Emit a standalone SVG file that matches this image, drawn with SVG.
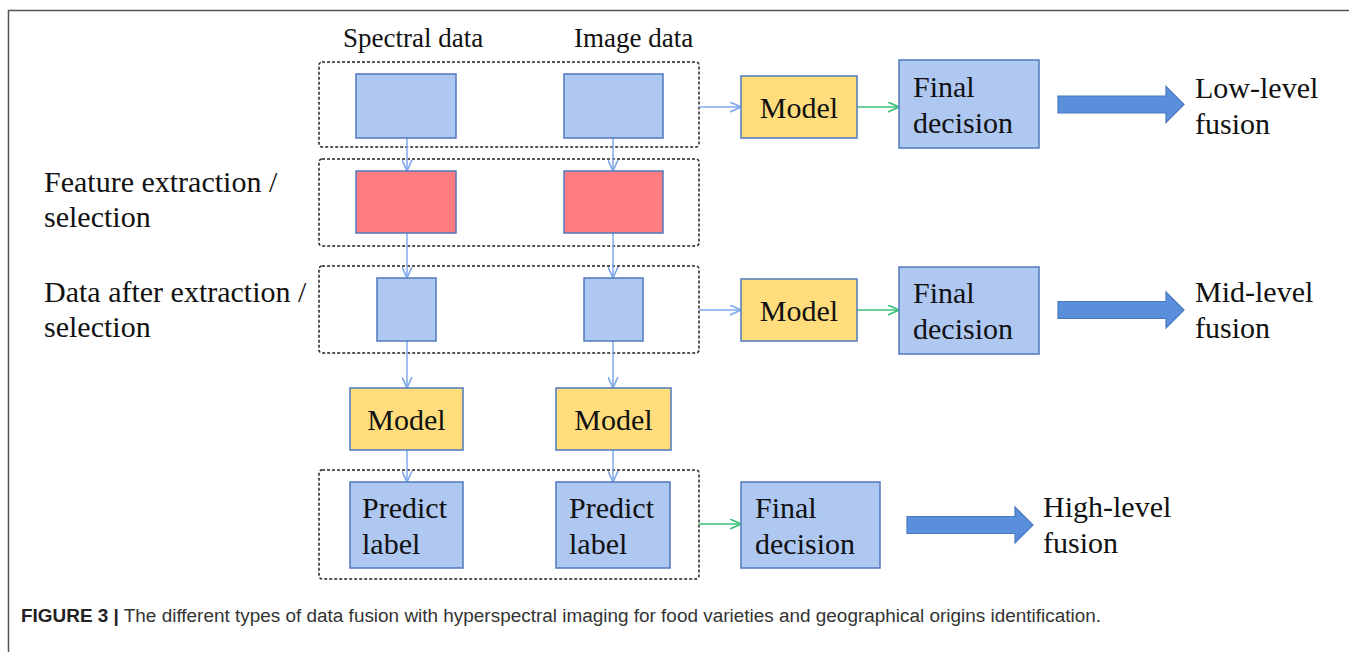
<svg xmlns="http://www.w3.org/2000/svg" width="1349" height="652" viewBox="0 0 1349 652">
<defs>
<style>
.t{font-family:"Liberation Serif","Times New Roman",serif;fill:#111;font-size:30px}
.hd{font-size:27px}
.blue{fill:#AEC8F1;stroke:#4F79BD;stroke-width:1.5}
.red{fill:#FF7C80;stroke:#4F79BD;stroke-width:1.5}
.yel{fill:#FFDD7C;stroke:#4F79BD;stroke-width:1.5}
.dash{fill:none;stroke:#222;stroke-width:1.5;stroke-dasharray:3 2}
.cb{fill:none;stroke:#7FA9EC;stroke-width:1.5}
.cg{fill:none;stroke:#3CC07A;stroke-width:1.5}
.big{fill:#5A8FDC;stroke:#4A78C0;stroke-width:1.2}
.cap{font-family:"Liberation Sans",Arial,sans-serif;font-size:18px;fill:#333}
</style>
<marker id="ab" viewBox="0 0 10 10" refX="10" refY="5" markerWidth="11" markerHeight="11" markerUnits="userSpaceOnUse" orient="auto"><path d="M0,0.5 L10,5 L0,9.5" fill="none" stroke="#7FA9EC" stroke-width="1.5"/></marker>
<marker id="ag" viewBox="0 0 10 10" refX="10" refY="5" markerWidth="11" markerHeight="11" markerUnits="userSpaceOnUse" orient="auto"><path d="M0,0.5 L10,5 L0,9.5" fill="none" stroke="#3CC07A" stroke-width="1.5"/></marker>
<path id="bigarrow" d="M0,-8.5 L108,-8.5 L108,-18 L126,0 L108,18 L108,8.5 L0,8.5 Z"/>
</defs>
<rect width="1349" height="652" fill="#fff"/>
<path d="M8.5,652 L8.5,10.5 L1349,10.5" fill="none" stroke="#555" stroke-width="1.5"/>

<g id="groups">
<rect class="dash" x="319" y="62" width="380" height="85" rx="3"/>
<rect class="dash" x="319" y="159" width="380" height="87" rx="3"/>
<rect class="dash" x="319" y="266" width="380" height="87" rx="3"/>
<rect class="dash" x="319" y="470" width="380" height="109" rx="3"/>
</g>

<g id="headers">
<text class="t hd" x="343" y="47">Spectral data</text>
<text class="t hd" x="574" y="47">Image data</text>
</g>
<g id="side-labels">
<text class="t" x="44" y="192">Feature extraction /</text>
<text class="t" x="44" y="227">selection</text>
<text class="t" x="44" y="302">Data after extraction /</text>
<text class="t" x="44" y="337">selection</text>
</g>

<g id="connectors">
<line class="cb" x1="407" y1="138" x2="407" y2="171" marker-end="url(#ab)"/>
<line class="cb" x1="613" y1="138" x2="613" y2="171" marker-end="url(#ab)"/>
<line class="cb" x1="407" y1="233" x2="407" y2="278" marker-end="url(#ab)"/>
<line class="cb" x1="613" y1="233" x2="613" y2="278" marker-end="url(#ab)"/>
<line class="cb" x1="407" y1="341" x2="407" y2="388" marker-end="url(#ab)"/>
<line class="cb" x1="613" y1="341" x2="613" y2="388" marker-end="url(#ab)"/>
<line class="cb" x1="407" y1="450" x2="407" y2="482" marker-end="url(#ab)"/>
<line class="cb" x1="613" y1="450" x2="613" y2="482" marker-end="url(#ab)"/>
<line class="cb" x1="699" y1="107" x2="741" y2="107" marker-end="url(#ab)"/>
<line class="cg" x1="857" y1="107" x2="899" y2="107" marker-end="url(#ag)"/>
<line class="cb" x1="699" y1="310" x2="741" y2="310" marker-end="url(#ab)"/>
<line class="cg" x1="857" y1="310" x2="899" y2="310" marker-end="url(#ag)"/>
<line class="cg" x1="699" y1="524" x2="741" y2="524" marker-end="url(#ag)"/>
</g>

<g id="spectral-raw"><rect class="blue" x="356" y="74" width="100" height="64"/></g>
<g id="image-raw"><rect class="blue" x="564" y="74" width="99" height="64"/></g>
<g id="spectral-feat"><rect class="red" x="356" y="171" width="100" height="62"/></g>
<g id="image-feat"><rect class="red" x="564" y="171" width="99" height="62"/></g>
<g id="spectral-sel"><rect class="blue" x="377" y="278" width="59" height="63"/></g>
<g id="image-sel"><rect class="blue" x="584" y="278" width="59" height="63"/></g>
<g id="spectral-model"><rect class="yel" x="350" y="388" width="113" height="62"/><text class="t" x="406.5" y="430" text-anchor="middle">Model</text></g>
<g id="image-model"><rect class="yel" x="556" y="388" width="115" height="62"/><text class="t" x="613.5" y="430" text-anchor="middle">Model</text></g>
<g id="spectral-predict"><rect class="blue" x="350" y="482" width="113" height="86"/><text class="t" x="362" y="518">Predict</text><text class="t" x="362" y="554">label</text></g>
<g id="image-predict"><rect class="blue" x="556" y="482" width="114" height="86"/><text class="t" x="569" y="518">Predict</text><text class="t" x="569" y="554">label</text></g>

<g id="low-model"><rect class="yel" x="741" y="76" width="116" height="62"/><text class="t" x="799" y="118" text-anchor="middle">Model</text></g>
<g id="low-final"><rect class="blue" x="899" y="60" width="140" height="88"/><text class="t" x="913" y="97">Final</text><text class="t" x="913" y="133">decision</text></g>
<g id="low-label"><use href="#bigarrow" class="big" x="1058" y="104.5"/><text class="t" x="1195" y="98">Low-level</text><text class="t" x="1195" y="134">fusion</text></g>

<g id="mid-model"><rect class="yel" x="741" y="279" width="116" height="62"/><text class="t" x="799" y="321" text-anchor="middle">Model</text></g>
<g id="mid-final"><rect class="blue" x="899" y="267" width="140" height="87"/><text class="t" x="913" y="303">Final</text><text class="t" x="913" y="339">decision</text></g>
<g id="mid-label"><use href="#bigarrow" class="big" x="1058" y="310"/><text class="t" x="1195" y="302">Mid-level</text><text class="t" x="1195" y="338">fusion</text></g>

<g id="high-final"><rect class="blue" x="741" y="482" width="139" height="86"/><text class="t" x="755" y="518">Final</text><text class="t" x="755" y="554">decision</text></g>
<g id="high-label"><use href="#bigarrow" class="big" x="907" y="525"/><text class="t" x="1043" y="517">High-level</text><text class="t" x="1043" y="553">fusion</text></g>

<g id="caption"><text class="cap" x="21" y="622" textLength="1080" lengthAdjust="spacingAndGlyphs"><tspan font-weight="bold" fill="#222">FIGURE 3 |</tspan> The different types of data fusion with hyperspectral imaging for food varieties and geographical origins identification.</text></g>
</svg>
